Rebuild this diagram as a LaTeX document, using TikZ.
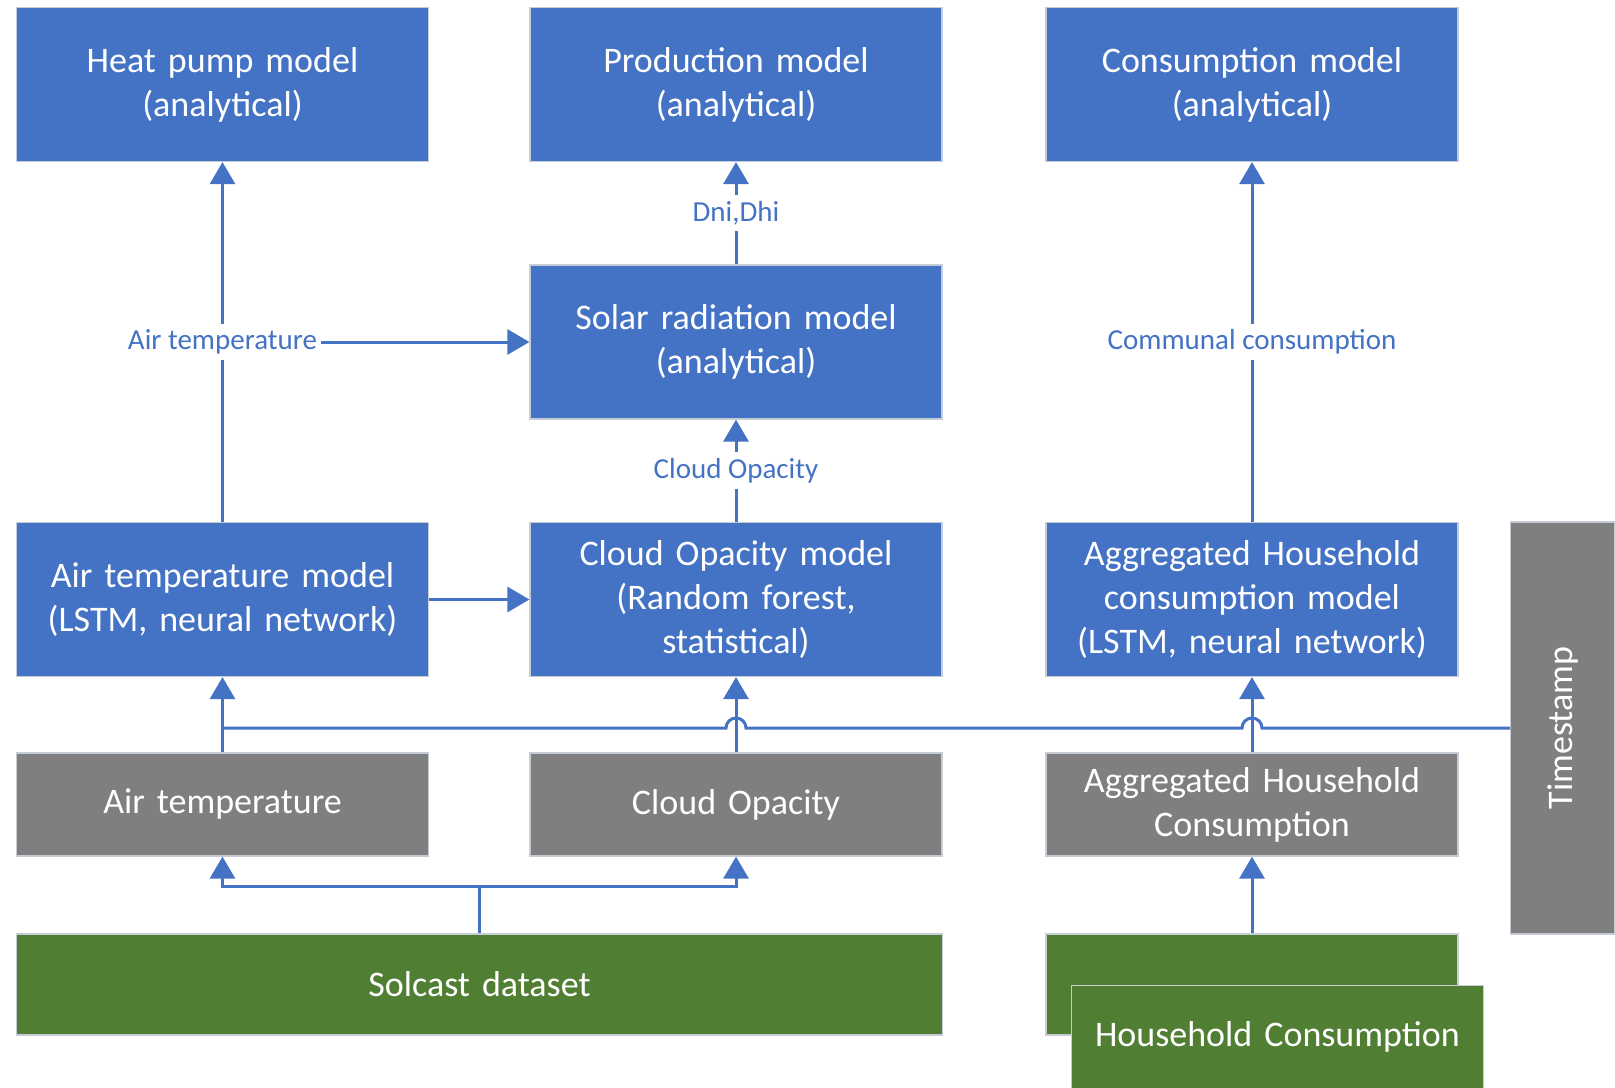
\documentclass[tikz,border=0pt]{standalone}
\usepackage{fontspec}
\setmainfont{Carlito}
\usepackage{tikz}
\usetikzlibrary{calc}
\usetikzlibrary{arrows.meta}
\definecolor{modelblue}{RGB}{68,114,196}
\definecolor{datagray}{RGB}{127,127,127}
\definecolor{srcgreen}{RGB}{80,126,50}
\definecolor{edgegray}{RGB}{198,204,214}
\tikzstyle{box} = [rectangle, 
minimum width=206pt, 
minimum height=77pt, 
text centered, 
text width=200pt, 
inner sep=0pt, 
draw=edgegray, 
line width=0.6pt, 
text=white, 
font=\fontsize{18}{22}\selectfont]
\tikzstyle{modelbox} = [box, fill=modelblue]
\tikzstyle{databox} = [box, fill=datagray, minimum height=51.5pt]
\tikzstyle{srcbox} = [box, fill=srcgreen, minimum height=50.5pt]
\tikzstyle{link} = [modelblue, line width=1.5pt]
\tikzstyle{arrow} = [link, -{Triangle[width=12.5pt,length=11pt]}]
\tikzstyle{lbl} = [fill=white, text=modelblue, inner xsep=1pt, inner ysep=3pt, font=\fontsize{14.5}{17}\selectfont]

\begin{document}
\begin{tikzpicture}[x=0.5pt, y=-0.5pt]
    \useasboundingbox (0,0) rectangle (1615,1087);

    % analytical models
    \node (hp) [modelbox] at (222.5,84.5) {Heat pump model\\(analytical)};
    \node (prod) [modelbox] at (736,84.5) {Production model\\(analytical)};
    \node (cons) [modelbox] at (1252,84.5) {Consumption model\\(analytical)};
    \node (solar) [modelbox] at (736,342) {Solar radiation model\\(analytical)};

    % learned models
    \node (airmodel) [modelbox] at (222.5,599.5) {Air temperature model\\(LSTM, neural network)};
    \node (cloudmodel) [modelbox] at (736,599.5) {Cloud Opacity model\\(Random forest,\\statistical)};
    \node (aggmodel) [modelbox] at (1252,599.5) {Aggregated Household\\consumption model\\(LSTM, neural network)};

    % data
    \node (airtemp) [databox] at (222.5,804.5) {Air temperature};
    \node (opac) [databox] at (736,804.5) {Cloud Opacity};
    \node (aggcons) [databox] at (1252,804.5) {Aggregated Household\\Consumption};
    \node (ts) [databox, rotate=90, minimum width=206pt, minimum height=52pt] at (1562.5,728) {Timestamp};

    % sources
    \node (solcast) [srcbox, minimum width=463pt, text width=450pt] at (479.5,984.5) {Solcast dataset};
    \node (hhback) [srcbox] at (1252,984.5) {};
    \node (hhfront) [srcbox, minimum height=51.5pt] at (1277.5,1037) {Household Consumption};

    % timestamp line, hopping over the inputs (ts is turned, so its north faces left)
    \draw [link] (ts.north) -- ([xshift=5pt]aggcons.north |- ts.north)
        arc[start angle=0, end angle=180, radius=5pt]
        -- ([xshift=5pt]opac.north |- ts.north)
        arc[start angle=0, end angle=180, radius=5pt]
        -- (airtemp.north |- ts.north);

    % inputs to models
    \draw [arrow] (airtemp) -- (airmodel);
    \draw [arrow] (opac) -- (cloudmodel);
    \draw [arrow] (aggcons) -- (aggmodel);
    \draw [arrow] (hhback) -- (aggcons);

    \coordinate (split) at (479.5,886);
    \draw [link] (solcast.north) -- (split);
    \draw [arrow] (split) -| (airtemp.south);
    \draw [arrow] (split) -| (opac.south);

    % model chain
    \draw [arrow] (airmodel) -- (cloudmodel);
    \draw [arrow] (cloudmodel) -- node [lbl] (oplbl) {Cloud Opacity} (solar);
    \draw [arrow] (solar) -- node [lbl] (dnilbl) {Dni,Dhi} (prod);
    \draw [arrow] (airmodel) -- node [lbl] (airlbl) {Air temperature} (hp);
    \draw [arrow] (airlbl) -- (solar);
    \draw [arrow] (aggmodel) -- node [lbl] (comlbl) {Communal consumption} (cons);
\end{tikzpicture}
\end{document}
